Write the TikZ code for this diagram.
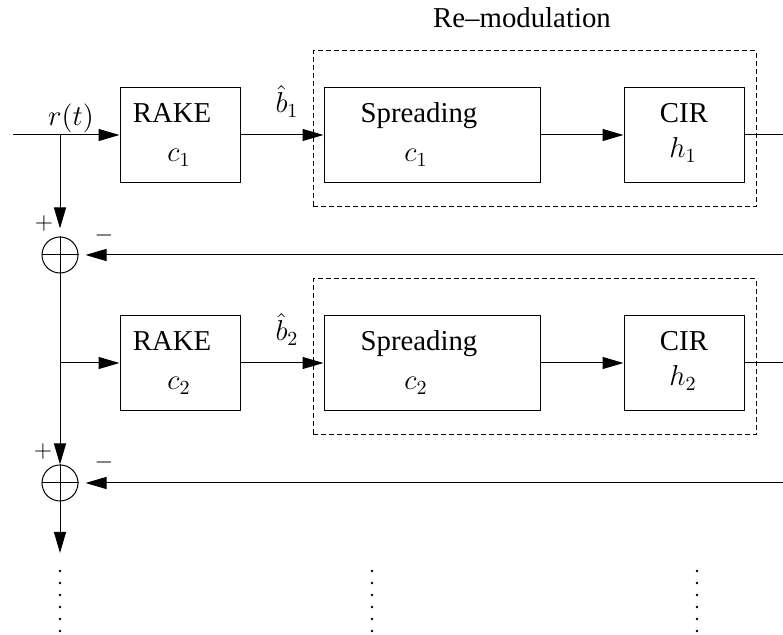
\documentclass[tikz,border=0pt]{standalone}
\usepackage[no-math]{fontspec}
\setmainfont{Liberation Serif}
\usetikzlibrary{arrows.meta}

\tikzset{
	block/.style={draw, line width=0.5pt, inner sep=0pt, minimum width=60pt, minimum height=47.5pt},
	remod/.style={draw, line width=0.5pt, dash pattern=on 2.5pt off 1.5pt, inner sep=0pt},
	sumnode/.style={draw, circle, line width=0.5pt, minimum size=18pt, inner sep=0pt},
	lbl/.style={anchor=base, inner sep=0pt, font=\fontsize{14.4}{17}\selectfont},
	sign/.style={inner sep=0pt, font=\fontsize{12}{14}\selectfont},
	sig/.style={line width=0.5pt, -{Triangle[length=10.5pt, width=6pt]}},
	wire/.style={line width=0.5pt}
}

\begin{document}
\begin{tikzpicture}[x=0.5pt, y=-0.5pt]
	\useasboundingbox (0,0) rectangle (783,635);

	% first stage
	\node[remod, minimum width=221.5pt, minimum height=78pt] (remod1) at (534.5,129) {};
	\node[lbl] (remodtxt) at (522,28) {Re--modulation};
	\node[block] (rake1) at (180,135) {};
	\node[block, minimum width=108pt] (spread1) at (432,135) {};
	\node[block] (cir1) at (684,135) {};
	\node[lbl] (rake1a) at (172,123) {RAKE};
	\node[lbl] (rake1b) at (179,162) {$c_1$};
	\node[lbl] (spread1a) at (419,123) {Spreading};
	\node[lbl] (spread1b) at (416,162) {$c_1$};
	\node[lbl] (cir1a) at (684,123) {CIR};
	\node[lbl] (cir1b) at (683,158) {$h_1$};

	\coordinate (in) at (13,135);
	\coordinate (split1) at (60,135);
	\coordinate (out1) at (783,135);
	\coordinate (fb1) at (783,255);
	\node[lbl] (rt) at (71,126) {$r(t)$};
	\node[lbl] (b1) at (287,113) {$\hat{b}_1$};
	\draw[sig] (in) -- (rake1.west);
	\draw[sig] (rake1) -- (spread1);
	\draw[sig] (spread1) -- (cir1);
	\draw[wire] (cir1) -- (out1);

	\node[sumnode] (sum1) at (60,255) {};
	\draw[wire] (sum1.west) -- (sum1.east) (sum1.north) -- (sum1.south);
	\node[sign] (plus1) at (44,224) {$+$};
	\node[sign] (minus1) at (104,236) {$-$};
	\draw[sig, shorten >=4pt] (split1) -- (sum1);
	\draw[sig, shorten >=3.5pt] (fb1) -- (sum1);

	% second stage
	\node[remod, minimum width=221.5pt, minimum height=78pt] (remod2) at (534.5,357) {};
	\node[block] (rake2) at (180,363) {};
	\node[block, minimum width=108pt] (spread2) at (432,363) {};
	\node[block] (cir2) at (684,363) {};
	\node[lbl] (rake2a) at (172,351) {RAKE};
	\node[lbl] (rake2b) at (179,390) {$c_2$};
	\node[lbl] (spread2a) at (419,351) {Spreading};
	\node[lbl] (spread2b) at (416,390) {$c_2$};
	\node[lbl] (cir2a) at (684,351) {CIR};
	\node[lbl] (cir2b) at (683,386) {$h_2$};

	\coordinate (split2) at (60,363);
	\coordinate (out2) at (783,363);
	\coordinate (fb2) at (783,483);
	\coordinate (next) at (60,553);
	\node[lbl] (b2) at (287,341) {$\hat{b}_2$};
	\draw[sig] (split2) -- (rake2.west);
	\draw[sig] (rake2) -- (spread2);
	\draw[sig] (spread2) -- (cir2);
	\draw[wire] (cir2) -- (out2);

	\node[sumnode] (sum2) at (60,483) {};
	\draw[wire] (sum2.west) -- (sum2.east) (sum2.north) -- (sum2.south);
	\node[sign] (plus2) at (43,452) {$+$};
	\node[sign] (minus2) at (104,463) {$-$};
	\draw[sig] (sum1) -- (sum2);
	\draw[sig, shorten >=3.5pt] (fb2) -- (sum2);
	\draw[sig] (sum2) -- (next);

	% further stages
	\foreach \x in {60,372,697}
		\foreach \y in {571,583,...,631}
			\fill (\x,\y) circle (0.65pt);
\end{tikzpicture}
\end{document}
